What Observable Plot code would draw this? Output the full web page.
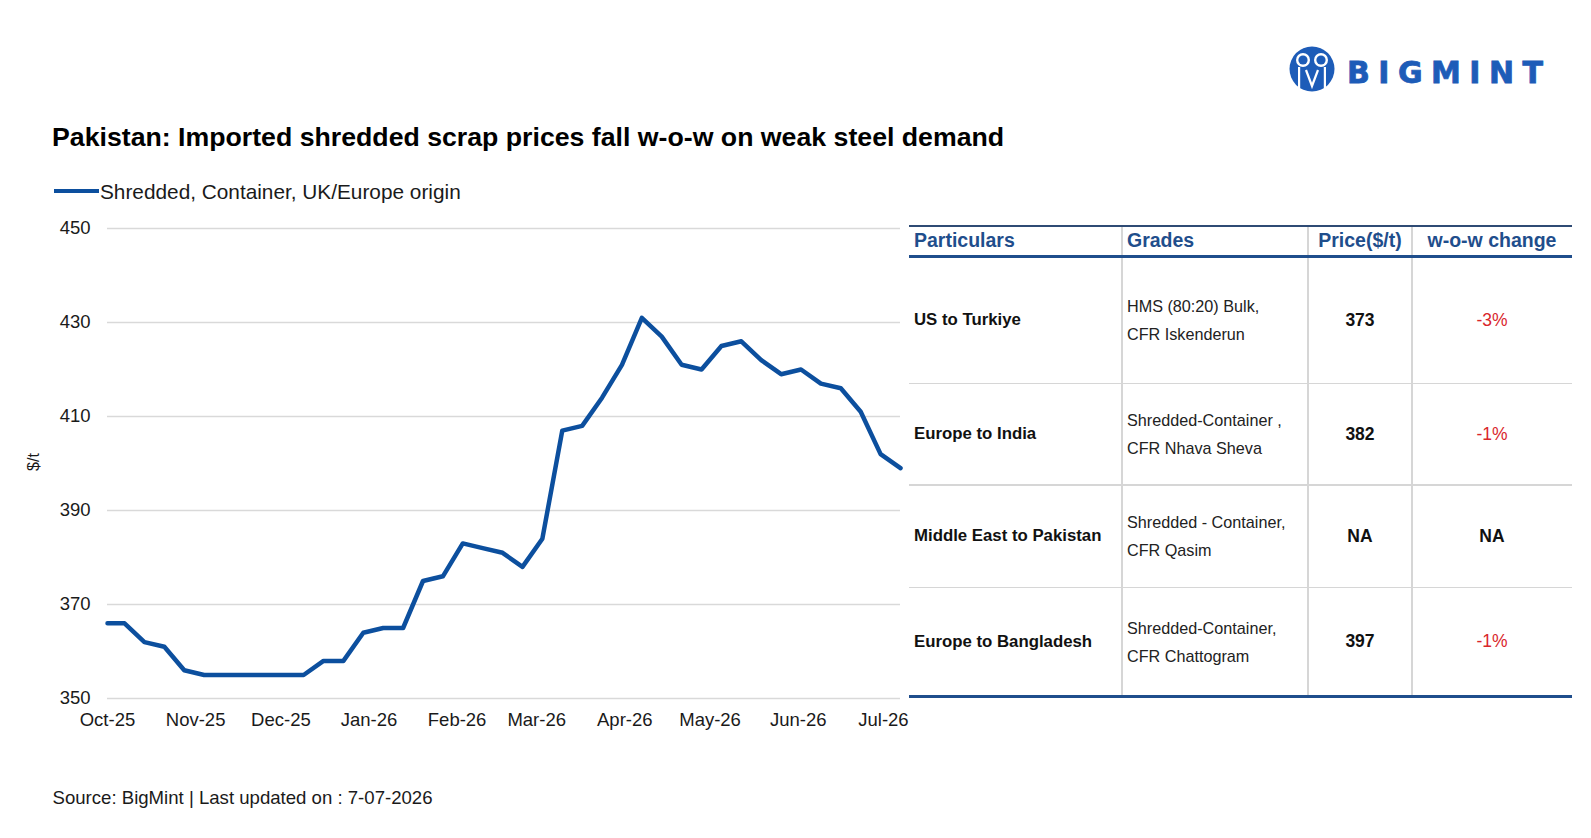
<!DOCTYPE html>
<html><head><meta charset="utf-8">
<script src="https://cdn.jsdelivr.net/npm/d3@7"></script>
<script src="https://cdn.jsdelivr.net/npm/@observablehq/plot@0.6"></script>
<style>
html,body{margin:0;padding:0;background:#fff;}
#root{position:relative;width:1591px;height:838px;overflow:hidden;font-family:"Liberation Sans",Arial,sans-serif;color:#111;background:#fff;}
.abs{position:absolute;line-height:1;white-space:nowrap;}
.cell{position:absolute;display:flex;align-items:center;box-sizing:border-box;white-space:nowrap;}
.rule{position:absolute;}
</style></head>
<body><div id="root"></div>
<script>
// ---------- data ----------
const titleText = "Pakistan: Imported shredded scrap prices fall w-o-w on weak steel demand";
const seriesName = "Shredded, Container, UK/Europe origin";
const yAxisLabel = "$/t";
const sourceText = "Source: BigMint | Last updated on : 7-07-2026";

const dates = [
  "2025-10-01","2025-10-07","2025-10-14","2025-10-21","2025-10-28",
  "2025-11-04","2025-11-11","2025-11-18","2025-11-25",
  "2025-12-02","2025-12-09","2025-12-16","2025-12-23","2025-12-30",
  "2026-01-06","2026-01-13","2026-01-20","2026-01-27",
  "2026-02-03","2026-02-10","2026-02-17","2026-02-24",
  "2026-03-03","2026-03-10","2026-03-17","2026-03-24","2026-03-31",
  "2026-04-07","2026-04-14","2026-04-21","2026-04-28",
  "2026-05-05","2026-05-12","2026-05-19","2026-05-26",
  "2026-06-02","2026-06-09","2026-06-16","2026-06-23","2026-06-30",
  "2026-07-07"
];
const prices = [
  366,366,362,361,356,
  355,355,355,355,
  355,355,358,358,364,
  365,365,375,376,
  383,382,381,378,
  384,407,408,414,421,
  431,427,421,420,
  425,426,422,419,
  420,417,416,411,402,
  399
];
const yTicks = [350,370,390,410,430,450];
const xTickDates = ["2025-10-01","2025-11-01","2025-12-01","2026-01-01","2026-02-01","2026-03-01","2026-04-01","2026-05-01","2026-06-01","2026-07-01"];
const xTickLabels = ["Oct-25","Nov-25","Dec-25","Jan-26","Feb-26","Mar-26","Apr-26","May-26","Jun-26","Jul-26"];

const tableHeaders = ["Particulars","Grades","Price($/t)","w-o-w change"];
const routes = ["US to Turkiye","Europe to India","Middle East to Pakistan","Europe to Bangladesh"];
const gradesLine1 = ["HMS (80:20) Bulk,","Shredded-Container ,","Shredded - Container,","Shredded-Container,"];
const gradesLine2 = ["CFR Iskenderun","CFR Nhava Sheva","CFR Qasim","CFR Chattogram"];
const tablePrices = ["373","382","NA","397"];
const tableChanges = ["-3%","-1%","NA","-1%"];

// ---------- layout ----------
const root = document.getElementById("root");
const BLUE = "#0c4f9e";
const HEAD = "#1f4e8c";

function addText(txt, left, top, css){
  const d = document.createElement("div");
  d.className = "abs";
  d.textContent = txt;
  d.style.left = left + "px";
  d.style.top = top + "px";
  Object.assign(d.style, css || {});
  root.appendChild(d);
  return d;
}

// logo
const logo = document.createElementNS("http://www.w3.org/2000/svg","svg");
logo.setAttribute("width","290"); logo.setAttribute("height","70");
logo.style.position="absolute"; logo.style.left="1270px"; logo.style.top="34px";
logo.innerHTML = `
 <circle cx="42" cy="35" r="22.5" fill="#1d5cb8"/>
 <circle cx="33" cy="26" r="7" fill="#fff"/>
 <circle cx="33" cy="26" r="4.6" fill="#1d5cb8"/>
 <circle cx="51" cy="26" r="7" fill="#fff"/>
 <circle cx="51" cy="26" r="4.6" fill="#1d5cb8"/>
 <rect x="28" y="33" width="2.2" height="22" fill="#fff"/>
 <rect x="53.8" y="33" width="2.2" height="22" fill="#fff"/>
 <path d="M36 36 L42 52 L48 36" stroke="#fff" stroke-width="2.2" fill="none"/>
 <text x="77" y="48.7" font-family="DejaVu Sans, Liberation Sans, sans-serif" font-weight="bold" font-size="30" fill="#1d5cb8" stroke="#1d5cb8" stroke-width="0.8" textLength="196" lengthAdjust="spacing">BIGMINT</text>`;
root.appendChild(logo);

// title
addText(titleText, 52, 123.8, {fontSize:"26.7px", fontWeight:"bold", color:"#000"});

// legend
const sw = document.createElement("div");
sw.className = "rule";
Object.assign(sw.style, {left:"54px", top:"188.5px", width:"45px", height:"4.5px", background:BLUE});
root.appendChild(sw);
addText(seriesName, 100, 181.5, {fontSize:"20.8px", color:"#1a1a1a"});

// y label
addText(yAxisLabel, 25, 454, {fontSize:"16px", color:"#1a1a1a", transform:"rotate(-90deg)", transformOrigin:"center"});

// source
addText(sourceText, 52.5, 788.5, {fontSize:"18.6px", color:"#1a1a1a"});

// ---------- chart ----------
const data = dates.map((d,i)=>({date:new Date(d), price:prices[i]}));
const tickDates = xTickDates.map(d=>new Date(d));
const chart = Plot.plot({
  width: 910,
  height: 538,
  marginLeft: 107,
  marginRight: 10,
  marginTop: 28,
  marginBottom: 40,
  style: {fontFamily:"Liberation Sans, Arial, sans-serif", fontSize:"18.5px", color:"#1a1a1a", background:"transparent", overflow:"visible"},
  x: {type:"utc", domain:[new Date("2025-10-01"), new Date("2026-07-07")]},
  y: {domain:[350,450]},
  marks: [
    Plot.gridY(yTicks, {stroke:"#d9d9d9", strokeOpacity:1, strokeWidth:1.5}),
    Plot.axisY(yTicks, {tickSize:0, tickPadding:17, label:null, fontSize:18.5}),
    Plot.axisX(tickDates, {tickSize:0, tickPadding:14, label:null, fontSize:18.5,
      tickFormat: d => xTickLabels[xTickDates.indexOf(d.toISOString().slice(0,10))]}),
    Plot.lineY(data, {x:"date", y:"price", stroke:BLUE, strokeWidth:4.5, strokeLinejoin:"round"})
  ]
});
chart.style.position = "absolute";
chart.style.left = "0px";
chart.style.top = "200px";
root.appendChild(chart);

// ---------- table ----------
const colX = [909, 1122, 1308, 1412, 1572];
const rowY = [256.7, 383.5, 485, 587.5, 696];
function rule(l,t,w,h,c){
  const r = document.createElement("div");
  r.className="rule";
  Object.assign(r.style,{left:l+"px",top:t+"px",width:w+"px",height:h+"px",background:c});
  root.appendChild(r);
}
function cell(html, ci, top, h, css, center){
  const c = document.createElement("div");
  c.className="cell";
  Object.assign(c.style,{left:colX[ci]+"px",top:top+"px",width:(colX[ci+1]-colX[ci])+"px",height:h+"px",
    justifyContent:center?"center":"flex-start",paddingLeft:center?"0":"5px"});
  Object.assign(c.style, css||{});
  c.innerHTML = html;
  root.appendChild(c);
}
// column dividers
for (let k=1;k<4;k++) rule(colX[k]-0.75, 226, 1.5, 469, "#d6d6d6");
// row dividers
for (let k=1;k<4;k++) rule(colX[0], rowY[k]-0.75, colX[4]-colX[0], 1.5, "#d6d6d6");
rule(colX[0], 224.5, colX[4]-colX[0], 2, "#2f4b74");
rule(colX[0], 255.2, colX[4]-colX[0], 3, HEAD);
rule(colX[0], 694.5, colX[4]-colX[0], 3, HEAD);

const headCss = {fontSize:"19.5px", fontWeight:"bold", color:HEAD, lineHeight:"1"};
tableHeaders.forEach((h,i)=> cell(h, i, 226.5, 28.7, headCss, i>=2));
routes.forEach((r,i)=>{
  const top = rowY[i], h = rowY[i+1]-rowY[i];
  cell(r, 0, top, h, {fontSize:"16.8px", fontWeight:"bold", color:"#111"}, false);
  cell(gradesLine1[i]+"<br>"+gradesLine2[i], 1, top, h, {fontSize:"16.2px", color:"#222", lineHeight:"28px"}, false);
  cell(tablePrices[i], 2, top, h, {fontSize:"17.5px", fontWeight:"bold", color:"#111"}, true);
  const isNA = tableChanges[i]==="NA";
  cell(tableChanges[i], 3, top, h, {fontSize:"17.5px", fontWeight:isNA?"bold":"normal", color:isNA?"#111":"#d9262c"}, true);
});
</script>
</body></html>
